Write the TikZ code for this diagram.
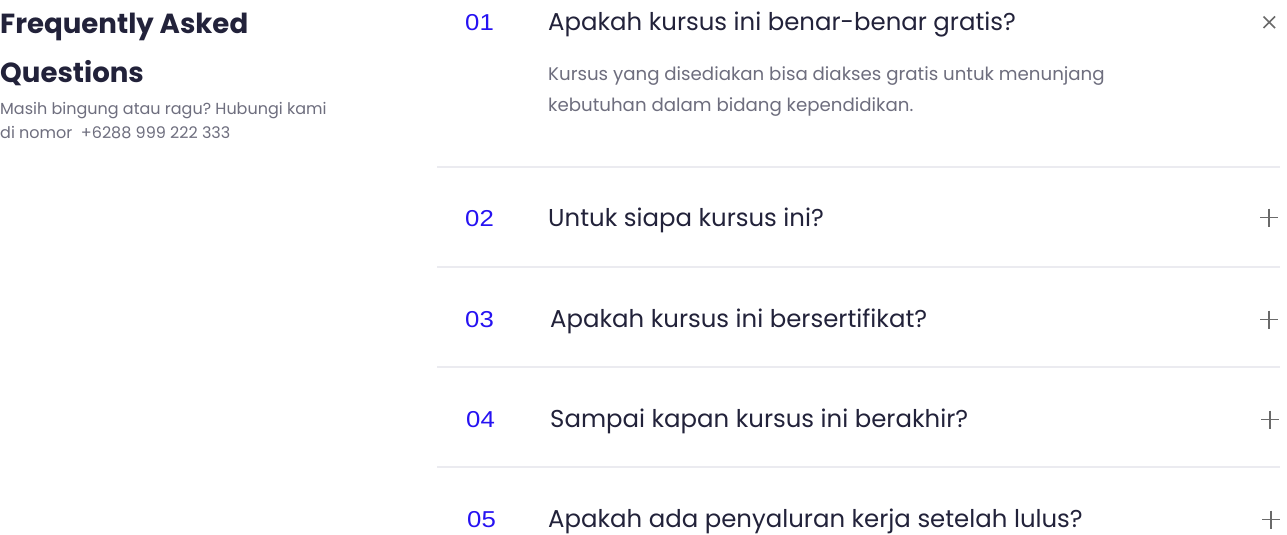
\documentclass[tikz,border=0pt]{standalone}
\usepackage{fontspec}
\setmainfont{Poppins}
\newfontfamily\numfont{Liberation Sans}
\frenchspacing
\definecolor{ink}{HTML}{22223A}
\definecolor{muted}{HTML}{6E6E7E}
\definecolor{numblue}{HTML}{2612F2}
\definecolor{rule}{HTML}{EBEBF0}
\definecolor{icon}{HTML}{6A6A6A}
\tikzset{
  x=1pt,y=-1pt,
  heading/.style={anchor=base west,inner sep=0pt,text=ink,font=\fontsize{27.6}{27.6}\selectfont\bfseries},
  sub/.style={anchor=base west,inner sep=0pt,text=muted,font=\fontsize{16}{16}\selectfont},
  qnum/.style={anchor=base west,inner sep=0pt,text=numblue,font=\numfont\fontsize{23}{23}\selectfont},
  quest/.style={anchor=base west,inner sep=0pt,text=ink,font=\fontsize{24.4}{24.4}\selectfont},
  answer/.style={anchor=base west,inner sep=0pt,text=muted,font=\fontsize{18.2}{18.2}\selectfont},
  sep/.style={draw=rule,line width=2pt},
  ico/.style={draw=icon,line width=1.6pt},
}
\newcommand{\qn}[1]{\scalebox{1.12}[1]{#1}}
\begin{document}
\begin{tikzpicture}
\useasboundingbox (0,0) rectangle (1287,535);
\fill[white] (0,0) rectangle (1287,535);
% left column
\node[heading] (h1) at (0,34) {Frequently Asked};
\node[heading] (h2) at (0,82) {Questions};
\node[sub] (s1) at (0,114) {Masih bingung atau ragu? Hubungi kami};
\node[sub] (s2) at (0,138) {di nomor\ \ +6288 999 222 333};
% rows
\node[qnum] (n1) at (465,31) {\qn{01}};
\node[quest] (q1) at (548,31) {Apakah kursus ini benar-benar gratis?};
\node[answer] (a1) at (548,81) {Kursus yang disediakan bisa diakses gratis untuk menunjang};
\node[answer] (a2) at (548,111) {kebutuhan dalam bidang kependidikan.};
\node[qnum] (n2) at (465,226) {\qn{02}};
\node[quest] (q2) at (548,226) {Untuk siapa kursus ini?};
\node[qnum] (n3) at (465,327) {\qn{03}};
\node[quest] (q3) at (550,327) {Apakah kursus ini bersertifikat?};
\node[qnum] (n4) at (466,427) {\qn{04}};
\node[quest] (q4) at (550,427) {Sampai kapan kursus ini berakhir?};
\node[qnum] (n5) at (467,527) {\qn{05}};
\node[quest] (q5) at (548,527) {Apakah ada penyaluran kerja setelah lulus?};
% separators
\coordinate (l1a) at (437,167); \coordinate (l1b) at (1280,167);
\coordinate (l2a) at (437,267); \coordinate (l2b) at (1280,267);
\coordinate (l3a) at (437,367); \coordinate (l3b) at (1280,367);
\coordinate (l4a) at (437,467); \coordinate (l4b) at (1280,467);
\draw[sep] (l1a) -- (l1b);
\draw[sep] (l2a) -- (l2b);
\draw[sep] (l3a) -- (l3b);
\draw[sep] (l4a) -- (l4b);
% icons
\draw[ico] (1263.5,16.5) -- (1275,28) (1275,16.5) -- (1263.5,28);
\draw[ico] (1260,217.5) -- (1278,217.5) (1269,208.5) -- (1269,226.5);
\draw[ico] (1260,319.5) -- (1278,319.5) (1269,310.5) -- (1269,328.5);
\draw[ico] (1261,419.5) -- (1279,419.5) (1270,410.5) -- (1270,428.5);
\draw[ico] (1262,519.5) -- (1280,519.5) (1271,510.5) -- (1271,528.5);
\end{tikzpicture}
\end{document}
